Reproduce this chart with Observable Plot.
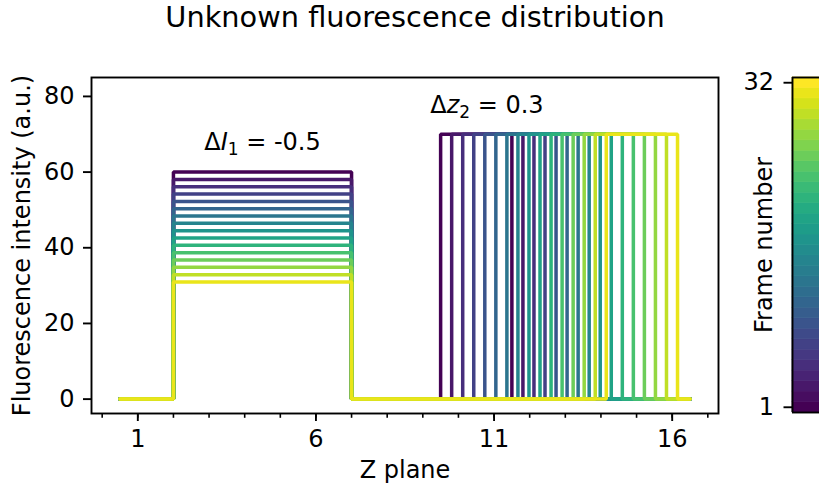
<!DOCTYPE html>
<html>
<head>
<meta charset="utf-8">
<script src="https://cdn.jsdelivr.net/npm/d3@7"></script>
<script src="https://cdn.jsdelivr.net/npm/@observablehq/plot@0.6"></script>
<style>
  html, body { margin: 0; padding: 0; background: #fff; }
  #chart { display: flex; width: 819px; height: 491px; overflow: hidden; }
</style>
</head>
<body>
<div id="chart"></div>
<script>
// Frames shown (every other frame of the 32-frame series)
const frames = [1, 3, 5, 7, 9, 11, 13, 15, 17, 19, 21, 23, 25, 27, 29, 31];

// First block: fixed z extent, intensity drops with frame number
const block1Edges = [2, 7];
const block1Intensity = [60, 58.06, 56.13, 54.19, 52.26, 50.32, 48.39, 46.45,
                         44.52, 42.58, 40.65, 38.71, 36.77, 34.84, 32.9, 30.97];

// Second block: fixed intensity, z position drifts with frame number
const block2Left = [9.5, 9.81, 10.12, 10.43, 10.74, 11.05, 11.36, 11.67,
                    11.98, 12.29, 12.6, 12.91, 13.22, 13.53, 13.84, 14.15];
const block2Right = [11.5, 11.81, 12.12, 12.43, 12.74, 13.05, 13.36, 13.67,
                     13.98, 14.29, 14.6, 14.91, 15.22, 15.53, 15.84, 16.15];
const block2Intensity = 70;

// Sampled z range of every profile
const zExtent = [0.5, 16.5];

// Axis ticks
const xTicks = [1, 6, 11, 16];
const xMinorTicks = [0, 1, 2, 3, 4, 5, 6, 7, 8, 9, 10, 11, 12, 13, 14, 15, 16, 17];
const yTicks = [0, 20, 40, 60, 80];
const barTicks = [1, 32];
const barFrames = [1, 2, 3, 4, 5, 6, 7, 8, 9, 10, 11, 12, 13, 14, 15, 16,
                   17, 18, 19, 20, 21, 22, 23, 24, 25, 26, 27, 28, 29, 30, 31, 32];

// Step profile of each frame as a polyline
const profiles = frames.flatMap((frame, i) => {
  const I1 = block1Intensity[i];
  const pts = [
    [zExtent[0], 0], [block1Edges[0], 0], [block1Edges[0], I1], [block1Edges[1], I1], [block1Edges[1], 0],
    [block2Left[i], 0], [block2Left[i], block2Intensity], [block2Right[i], block2Intensity], [block2Right[i], 0],
    [zExtent[1], 0]
  ];
  return pts.map(([z, value]) => ({frame, z, value}));
});

const font = "'DejaVu Sans', sans-serif";
const color = {type: "linear", scheme: "viridis", domain: [1, 32]};

const main = Plot.plot({
  width: 740,
  height: 491,
  marginLeft: 91,
  marginRight: 22,
  marginTop: 77,
  marginBottom: 78,
  style: {fontFamily: font, fontSize: "24px", color: "black", background: "white"},
  x: {domain: [-0.3, 17.3], axis: null},
  y: {domain: [-3.8, 85], axis: null},
  color,
  marks: [
    Plot.line(profiles, {x: "z", y: "value", z: "frame", stroke: "frame", strokeWidth: 3.5, strokeLinejoin: "miter"}),
    Plot.frame({stroke: "black", strokeWidth: 1.9}),
    Plot.axisX({ticks: xMinorTicks, tickSize: 4.8, tickFormat: () => "", strokeWidth: 1.6, label: null}),
    Plot.axisX({ticks: xTicks, tickSize: 8, tickPadding: 8, strokeWidth: 1.9, label: null}),
    Plot.axisY({ticks: yTicks, tickSize: 8, tickPadding: 9, strokeWidth: 1.9, label: null}),
    Plot.text(["Unknown fluorescence distribution"], {text: d => d, frameAnchor: "top", lineAnchor: "middle", dx: 10, dy: -60, fontSize: 28.8}),
    Plot.text(["Z plane"], {text: d => d, frameAnchor: "bottom", dy: 64}),
    Plot.text(["Fluorescence intensity (a.u.)"], {text: d => d, frameAnchor: "left", textAnchor: "middle", rotate: -90, dx: -69}),
    Plot.text(["ΔI1 = -0.5"], {text: d => d, x: () => 4.5, y: () => 68}),
    Plot.text(["Δz2 = 0.3"], {text: d => d, x: () => 10.8, y: () => 77.6})
  ]
});

const bar = Plot.plot({
  width: 79,
  height: 491,
  marginLeft: 52,
  marginRight: 0,
  marginTop: 77,
  marginBottom: 79,
  style: {fontFamily: font, fontSize: "24px", color: "black", background: "white"},
  x: {domain: [0, 1], axis: null},
  y: {domain: [0.5, 32.5], axis: null},
  color,
  marks: [
    Plot.rect(barFrames, {x1: () => 0, x2: () => 1, y1: f => f - 0.5, y2: f => f + 0.5, fill: f => f, stroke: f => f, strokeWidth: 0.6}),
    Plot.ruleX([0], {stroke: "black", strokeWidth: 1.9}),
    Plot.ruleY([0.5, 32.5], {stroke: "black", strokeWidth: 1.9}),
    Plot.axisY({ticks: barTicks, tickSize: 8.5, tickPadding: 10, strokeWidth: 1.9, label: null, anchor: "left"}),
    Plot.text(["Frame number"], {text: d => d, frameAnchor: "left", textAnchor: "middle", rotate: -90, dx: -28})
  ]
});

// Typeset the annotations: italic variable with a lowered subscript
const SVG_NS = "http://www.w3.org/2000/svg";
function typeset(svg, raw, parts) {
  svg.querySelectorAll("text").forEach(t => {
    if (t.textContent !== raw) return;
    t.textContent = "";
    for (const p of parts) {
      const s = document.createElementNS(SVG_NS, "tspan");
      s.textContent = p.text;
      if (p.italic) s.setAttribute("font-style", "italic");
      if (p.size) s.setAttribute("font-size", p.size);
      if (p.dy) s.setAttribute("dy", p.dy);
      t.appendChild(s);
    }
  });
}
typeset(main, "ΔI1 = -0.5", [
  {text: "Δ"}, {text: "I", italic: true}, {text: "1", size: 17, dy: 5}, {text: " = -0.5", dy: -5}
]);
typeset(main, "Δz2 = 0.3", [
  {text: "Δ"}, {text: "z", italic: true}, {text: "2", size: 17, dy: 5}, {text: " = 0.3", dy: -5}
]);

const chart = document.getElementById("chart");
chart.appendChild(main);
chart.appendChild(bar);
</script>
</body>
</html>
